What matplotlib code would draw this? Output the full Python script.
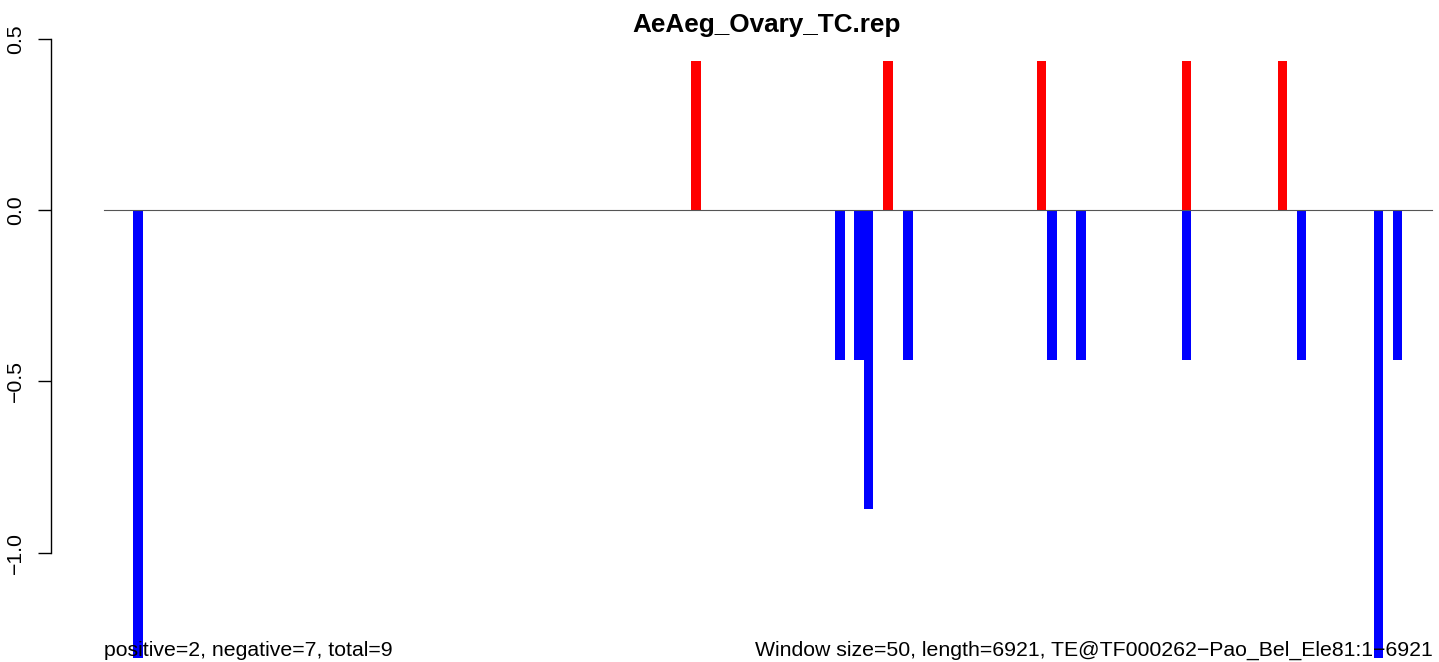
import matplotlib
matplotlib.use("Agg")
import matplotlib.pyplot as plt
import matplotlib.transforms as mtransforms

# window centres (bp) and normalised counts
pos_x = [3085, 4085, 4885, 5640, 6140]
pos_y = [0.436, 0.436, 0.436, 0.436, 0.436]
neg_x = [180, 3835, 3935, 3985, 4190, 4940, 5090, 5640, 6240, 6640, 6740]
neg_y = [-1.308, -0.436, -0.436, -0.872, -0.436, -0.436, -0.436, -0.436,
         -0.436, -1.308, -0.436]

seq_len = 6921
win = 50
title = "AeAeg_Ovary_TC.rep"
left_note = "positive=2, negative=7, total=9"
right_note = "Window size=50, length=6921, TE@TF000262\u2212Pao_Bel_Ele81:1\u22126921"
yticks = [0.5, 0.0, -0.5, -1.0]
ytick_labels = ["0.5", "0.0", "\u22120.5", "\u22121.0"]

plt.rcParams['font.family'] = ['Liberation Sans', 'DejaVu Sans']
W, H = 1439, 662
fig = plt.figure(figsize=(W / 100, H / 100), dpi=100)

# R-style plot region (the original png is cropped right and bottom)
px_l, px_r, px_t, px_b = 50.7, 1485.5, 37.0, 682.0
ax = fig.add_axes([px_l / W, (H - px_b) / H, (px_r - px_l) / W, (px_b - px_t) / H])

ax.bar(pos_x, pos_y, width=win, color='#ff0000', linewidth=0)
ax.bar(neg_x, neg_y, width=win, color='#0000ff', linewidth=0)
ax.plot([1, seq_len], [0, 0], color='#555555', lw=0.8, zorder=5)

span = seq_len - 1
ax.set_xlim(1 - 0.04 * span, seq_len + 0.04 * span)
ymin, ymax = -1.308, 0.436
yr = ymax - ymin
ax.set_ylim(ymin - 0.04 * yr, ymax + 0.04 * yr)

for s in ['top', 'right', 'bottom']:
    ax.spines[s].set_visible(False)
ax.spines['left'].set_bounds(-1.0, 0.5)
ax.spines['left'].set_linewidth(1.0)
ax.set_xticks([])
ax.set_yticks(yticks)
ax.set_yticklabels(ytick_labels, rotation=90, va='center')
ax.tick_params(axis='y', direction='out', length=9.6, width=1.0, pad=9,
               labelsize=15.3)

fig.text(767 / W, (H - 32) / H, title, ha='center', va='baseline',
         fontsize=18.8, fontweight='bold')

# notes at the bottom, x in data units, y in figure units
trans = mtransforms.blended_transform_factory(ax.transData, fig.transFigure)
ax.text(1, (H - 656) / H, left_note, transform=trans, fontsize=15.3,
        ha='left', va='baseline')
ax.text(seq_len, (H - 656) / H, right_note, transform=trans, fontsize=15.3,
        ha='right', va='baseline')

fig.savefig("out.png", dpi=100)
